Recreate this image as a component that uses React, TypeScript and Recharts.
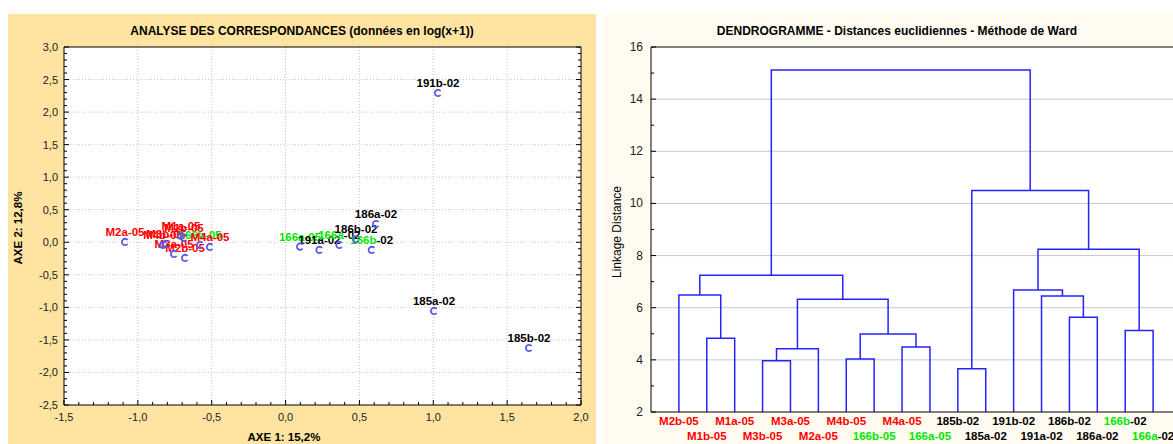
import React from "react";
import { ComposedChart, Scatter, Line, XAxis, YAxis, ReferenceLine, ReferenceArea } from "recharts";

const FONT = "'Liberation Sans', Arial, Helvetica, sans-serif";
const RED = "#ff0000";
const GREEN = "#00e600";
const BLACK = "#000000";
const BLUE = "#2424ff";

// Analyse des correspondances : coordonnées des échantillons
const acNames = [
  "M2a-05", "M4b-05", "M3b-05", "M1a-05", "M1b-05", "M3a-05", "M2b-05", "166b-05", "M4a-05",
  "166a-05", "191a-02", "166a-02", "186b-02", "186a-02", "166b-02", "191b-02", "185a-02", "185b-02",
];
const acAxe1 = [
  -1.087, -0.83, -0.809, -0.708, -0.688, -0.755, -0.681, -0.579, -0.512,
  0.098, 0.229, 0.364, 0.477, 0.612, 0.583, 1.032, 1.005, 1.648,
];
const acAxe2 = [
  0.005, -0.041, -0.026, 0.097, 0.066, -0.18, -0.241, -0.041, -0.072,
  -0.067, -0.118, -0.041, 0.046, 0.281, -0.118, 2.293, -1.055, -1.624,
];
const axe1Major = [-1.5, -1, -0.5, 0, 0.5, 1, 1.5, 2];
const axe2Major = [-2.5, -2, -1.5, -1, -0.5, 0, 0.5, 1, 1.5, 2, 2.5, 3];

// Dendrogramme (Ward) : ordre des feuilles et fusions
const leafNames = [
  "M2b-05", "M1b-05", "M1a-05", "M3b-05", "M3a-05", "M2a-05", "M4b-05", "166b-05", "M4a-05",
  "166a-05", "185b-02", "185a-02", "191b-02", "191a-02", "186b-02", "186a-02", "166b-02", "166a-02",
];
const linkIds = ["A", "B", "C", "D", "E", "F", "G", "H", "I", "J", "K", "L", "M", "N", "O", "P", "Q"];
const linkLeft = ["M1b-05", "M2b-05", "M3b-05", "C", "M4b-05", "M4a-05", "E", "D", "B", "185b-02", "186b-02", "191a-02", "191b-02", "166b-02", "M", "J", "I"];
const linkRight = ["M1a-05", "A", "M3a-05", "M2a-05", "166b-05", "166a-05", "F", "G", "H", "185a-02", "186a-02", "K", "L", "166a-02", "N", "O", "P"];
const linkHeight = [4.83, 6.49, 3.97, 4.43, 4.03, 4.49, 4.99, 6.32, 7.25, 3.66, 5.63, 6.45, 6.68, 5.13, 8.24, 10.5, 15.12];
const distTicks = [2, 3, 4, 5, 6, 7, 8, 9, 10, 11, 12, 13, 14, 15, 16];

const acData = acNames.map((name, i) => ({ name, x: acAxe1[i], y: acAxe2[i] }));

// petites graduations tous les 0,1
const fine = (major: number[]) => {
  const out: number[] = [];
  for (let i = 0; i < major.length - 1; i++) {
    for (let k = 0; k < 5; k++) out.push(Math.round((major[i] + k * 0.1) * 10) / 10);
  }
  out.push(major[major.length - 1]);
  return out;
};
const axe1Ticks = fine(axe1Major);
const axe2Ticks = fine(axe2Major);
const isMajor = (v: number) => Math.abs(v * 2 - Math.round(v * 2)) < 1e-6;
const fmt = (v: number) => v.toFixed(1).replace(".", ",");

// positions des noeuds du dendrogramme
const nodeX: Record<string, number> = {};
const nodeH: Record<string, number> = {};
leafNames.forEach((n, i) => {
  nodeX[n] = i + 1;
  nodeH[n] = 2;
});
const links = linkIds.map((id, i) => {
  const a = linkLeft[i];
  const b = linkRight[i];
  const h = linkHeight[i];
  nodeX[id] = (nodeX[a] + nodeX[b]) / 2;
  nodeH[id] = h;
  return {
    id,
    points: [
      { x: nodeX[a], y: nodeH[a] },
      { x: nodeX[a], y: h },
      { x: nodeX[b], y: h },
      { x: nodeX[b], y: nodeH[b] },
    ],
  };
});
const leafTicks = leafNames.map((_, i) => i + 1);

function nameParts(name: string) {
  const [site, year] = name.split("-");
  const isM = site.startsWith("M");
  const is166 = site.startsWith("166");
  const siteColor = isM ? RED : is166 ? GREEN : BLACK;
  const yearColor = isM ? RED : is166 && year === "05" ? GREEN : BLACK;
  return [
    { t: site, c: siteColor },
    { t: "-" + year, c: yearColor },
  ];
}

const SampleLabel = (props: any) => {
  const { cx, cy, payload } = props;
  return (
    <text x={cx} y={cy - 6} textAnchor="middle" fontFamily={FONT} fontSize={11.5} fontWeight="bold">
      {nameParts(payload.name).map((p, k) => (
        <tspan key={k} fill={p.c}>{p.t}</tspan>
      ))}
    </text>
  );
};

const SampleMark = (props: any) => {
  const { cx, cy } = props;
  return (
    <path
      d={`M${cx + 2.6},${cy - 2} A3.2,3.2 0 1 0 ${cx + 2.6},${cy + 2}`}
      fill="none"
      stroke="#5a5ae8"
      strokeWidth={1.8}
    />
  );
};

const BottomTick = ({ x, y, payload }: any) => {
  const major = isMajor(payload.value);
  return (
    <g>
      <line x1={x} y1={y} x2={x} y2={y - (major ? 5 : 3)} stroke="#000" />
      {major && (
        <text x={x} y={y + 16} textAnchor="middle" fontFamily={FONT} fontSize={11} fill="#222">
          {fmt(payload.value)}
        </text>
      )}
    </g>
  );
};
const TopTick = ({ x, y, payload }: any) => (
  <line x1={x} y1={y} x2={x} y2={y + (isMajor(payload.value) ? 5 : 3)} stroke="#000" />
);
const LeftTick = ({ x, y, payload }: any) => {
  const major = isMajor(payload.value);
  return (
    <g>
      <line x1={x} y1={y} x2={x + (major ? 5 : 3)} y2={y} stroke="#000" />
      {major && (
        <text x={x - 6} y={y + 4} textAnchor="end" fontFamily={FONT} fontSize={11} fill="#222">
          {fmt(payload.value)}
        </text>
      )}
    </g>
  );
};
const RightTick = ({ x, y, payload }: any) => (
  <line x1={x} y1={y} x2={x - (isMajor(payload.value) ? 5 : 3)} y2={y} stroke="#000" />
);

const LeafTick = ({ x, y, payload }: any) => {
  const i = payload.value - 1;
  const top = i % 2 === 0;
  return (
    <text x={x} y={y + (top ? 13 : 28)} textAnchor="middle" fontFamily={FONT} fontSize={11.5} fontWeight="bold">
      {nameParts(leafNames[i]).map((p, k) => (
        <tspan key={k} fill={p.c}>{p.t}</tspan>
      ))}
    </text>
  );
};
const LeafTopTick = ({ x, y }: any) => <line x1={x} y1={y} x2={x} y2={y + 4} stroke="#000" />;
const DistTick = ({ x, y, payload }: any) => {
  const major = payload.value % 2 === 0;
  return (
    <g>
      <line x1={x} y1={y} x2={x + (major ? 5 : 3)} y2={y} stroke="#000" />
      {major && (
        <text x={x - 8} y={y + 4} textAnchor="end" fontFamily={FONT} fontSize={12} fill="#222">
          {payload.value}
        </text>
      )}
    </g>
  );
};

const titleStyle: React.CSSProperties = {
  position: "absolute",
  left: 0,
  top: 10,
  width: "100%",
  textAlign: "center",
  fontFamily: FONT,
  fontSize: 12,
  fontWeight: "bold",
  lineHeight: "14px",
  color: "#000",
  whiteSpace: "nowrap",
};

export default function App() {
  return (
    <div style={{ position: "absolute", left: 0, top: 0, width: 1173, height: 444, overflow: "hidden", background: "#fff" }}>
      {/* panneau gauche : AFC */}
      <div style={{ position: "absolute", left: 8, top: 14, width: 588, height: 430, background: "#fee4a0" }}>
        <div style={titleStyle}>ANALYSE DES CORRESPONDANCES (données en log(x+1))</div>
        <ComposedChart width={588} height={430} margin={{ top: 32, right: 14, bottom: 9, left: 16 }}>
          <XAxis
            xAxisId="b"
            orientation="bottom"
            type="number"
            dataKey="x"
            domain={[-1.5, 2]}
            ticks={axe1Ticks}
            interval={0}
            allowDataOverflow
            tickSize={0}
            tickMargin={0}
            tickLine={false}
            axisLine={{ stroke: "#000" }}
            tick={<BottomTick />}
            height={30}
          />
          <XAxis
            xAxisId="t"
            orientation="top"
            type="number"
            domain={[-1.5, 2]}
            ticks={axe1Ticks}
            interval={0}
            allowDataOverflow
            tickSize={0}
            tickMargin={0}
            tickLine={false}
            axisLine={{ stroke: "#000" }}
            tick={<TopTick />}
            height={1}
          />
          <YAxis
            yAxisId="l"
            orientation="left"
            type="number"
            dataKey="y"
            domain={[-2.5, 3]}
            ticks={axe2Ticks}
            interval={0}
            allowDataOverflow
            tickSize={0}
            tickMargin={0}
            tickLine={false}
            axisLine={{ stroke: "#000" }}
            tick={<LeftTick />}
            width={40}
          />
          <YAxis
            yAxisId="r"
            orientation="right"
            type="number"
            domain={[-2.5, 3]}
            ticks={axe2Ticks}
            interval={0}
            allowDataOverflow
            tickSize={0}
            tickMargin={0}
            tickLine={false}
            axisLine={{ stroke: "#000" }}
            tick={<RightTick />}
            width={1}
          />
          <ReferenceArea xAxisId="b" yAxisId="l" x1={-1.5} x2={2} y1={-2.5} y2={3} fill="#ffffff" fillOpacity={1} stroke="none" />
          {axe1Major.slice(1, -1).map((v) => (
            <ReferenceLine key={"gx" + v} xAxisId="b" yAxisId="l" x={v} stroke="#c4c4c4" strokeDasharray="1 2" />
          ))}
          {axe2Major.slice(1, -1).map((v) => (
            <ReferenceLine key={"gy" + v} xAxisId="b" yAxisId="l" y={v} stroke="#c4c4c4" strokeDasharray="1 2" />
          ))}
          <Scatter xAxisId="b" yAxisId="l" data={acData} shape={<SampleLabel />} isAnimationActive={false} />
          <Scatter xAxisId="b" yAxisId="l" data={acData} shape={<SampleMark />} isAnimationActive={false} />
        </ComposedChart>
        <div
          style={{
            position: "absolute",
            left: 0,
            top: 416,
            width: 552,
            textAlign: "center",
            fontFamily: FONT,
            fontSize: 11.5,
            fontWeight: "bold",
            lineHeight: "14px",
          }}
        >
          AXE 1: 15,2%
        </div>
        <div
          style={{
            position: "absolute",
            left: -50,
            top: 207,
            width: 120,
            height: 14,
            textAlign: "center",
            fontFamily: FONT,
            fontSize: 11.5,
            fontWeight: "bold",
            lineHeight: "14px",
            transform: "rotate(-90deg)",
          }}
        >
          AXE 2: 12,8%
        </div>
      </div>

      {/* panneau droit : dendrogramme */}
      <div style={{ position: "absolute", left: 603, top: 14, width: 588, height: 430, background: "#fffbf0" }}>
        <div style={titleStyle}>DENDROGRAMME - Distances euclidiennes - Méthode de Ward</div>
        <ComposedChart width={588} height={430} margin={{ top: 32, right: 10, bottom: 0, left: 8 }}>
          <XAxis
            xAxisId="b"
            orientation="bottom"
            type="number"
            dataKey="x"
            domain={[0, 19]}
            ticks={leafTicks}
            interval={0}
            allowDataOverflow
            tickSize={0}
            tickMargin={0}
            tickLine={false}
            axisLine={{ stroke: "#000" }}
            tick={<LeafTick />}
            height={32}
          />
          <XAxis
            xAxisId="t"
            orientation="top"
            type="number"
            domain={[0, 19]}
            ticks={leafTicks}
            interval={0}
            allowDataOverflow
            tickSize={0}
            tickMargin={0}
            tickLine={false}
            axisLine={{ stroke: "#000" }}
            tick={<LeafTopTick />}
            height={1}
          />
          <YAxis
            yAxisId="l"
            orientation="left"
            type="number"
            domain={[2, 16]}
            ticks={distTicks}
            interval={0}
            allowDataOverflow
            tickSize={0}
            tickMargin={0}
            tickLine={false}
            axisLine={{ stroke: "#000" }}
            tick={<DistTick />}
            width={40}
          />
          <ReferenceArea xAxisId="b" yAxisId="l" x1={0} x2={19} y1={2} y2={16} fill="#ffffff" fillOpacity={1} stroke="none" />
          {distTicks.filter((v) => v % 2 === 0 && v > 2 && v < 16).map((v) => (
            <ReferenceLine key={"g" + v} xAxisId="b" yAxisId="l" y={v} stroke="#c8c8c8" />
          ))}
          {links.map((l) => (
            <Line
              key={l.id}
              xAxisId="b"
              yAxisId="l"
              data={l.points}
              dataKey="y"
              type="linear"
              stroke={BLUE}
              strokeWidth={1.5}
              dot={false}
              activeDot={false}
              isAnimationActive={false}
            />
          ))}
        </ComposedChart>
        <div
          style={{
            position: "absolute",
            left: -46,
            top: 211,
            width: 120,
            height: 14,
            textAlign: "center",
            fontFamily: FONT,
            fontSize: 12,
            lineHeight: "14px",
            transform: "rotate(-90deg)",
            whiteSpace: "nowrap",
          }}
        >
          Linkage Distance
        </div>
      </div>
    </div>
  );
}
